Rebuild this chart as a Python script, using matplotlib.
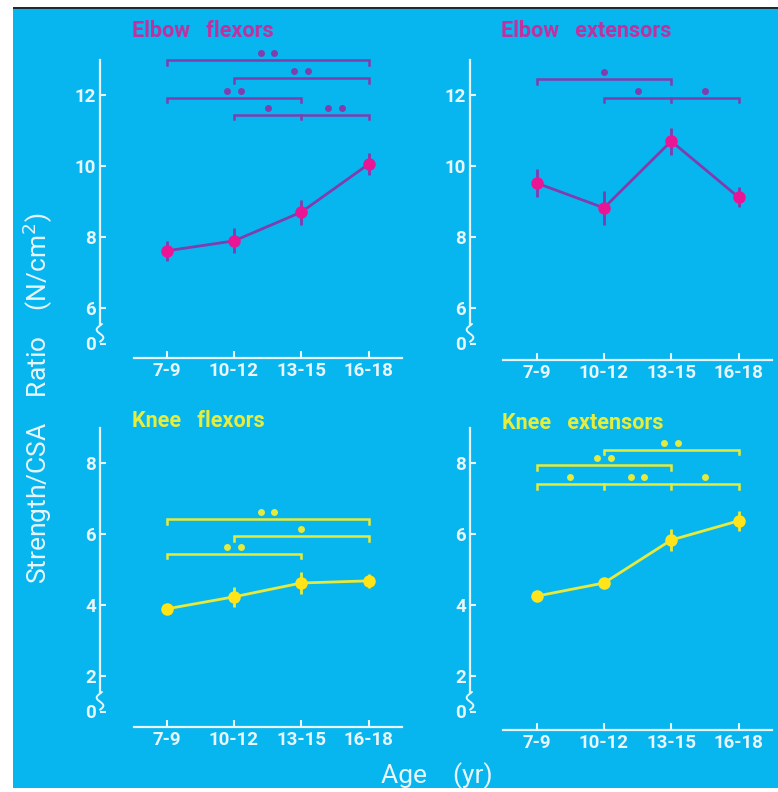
import numpy as np
import matplotlib
matplotlib.use("Agg")
import matplotlib.pyplot as plt
from matplotlib.patches import Rectangle

# ---------------- data ----------------
age_groups = ["7-9", "10-12", "13-15", "16-18"]

elbow_flex_mean = [7.61, 7.89, 8.70, 10.05]
elbow_flex_err = [0.28, 0.35, 0.35, 0.31]

elbow_ext_mean = [9.52, 8.82, 10.70, 9.12]
elbow_ext_err = [0.40, 0.47, 0.38, 0.28]

knee_flex_mean = [3.89, 4.23, 4.62, 4.68]
knee_flex_err = [0.15, 0.28, 0.30, 0.20]

knee_ext_mean = [4.25, 4.62, 5.83, 6.37]
knee_ext_err = [0.15, 0.15, 0.30, 0.28]

# significance brackets: (groups spanned, height, labels between consecutive groups)
elbow_flex_sig = [([0, 3], 12.98, ["**"]),
                  ([1, 3], 12.48, ["**"]),
                  ([0, 2], 11.92, ["**"]),
                  ([1, 2, 3], 11.44, ["*", "**"])]
elbow_ext_sig = [([0, 2], 12.45, ["*"]),
                 ([1, 2, 3], 11.92, ["*", "*"])]
knee_flex_sig = [([0, 3], 6.42, ["**"]),
                 ([1, 3], 5.94, ["*"]),
                 ([0, 2], 5.44, ["**"])]
knee_ext_sig = [([1, 3], 8.37, ["**"]),
                ([0, 2], 7.94, ["**"]),
                ([0, 1, 2, 3], 7.40, ["*", "**", "*"])]

upper_ticks = [5, 6, 8, 10, 12]
upper_ticklabels = ["0", "6", "8", "10", "12"]
lower_ticks = [1, 2, 4, 6, 8]
lower_ticklabels = ["0", "2", "4", "6", "8"]

# ---------------- style ----------------
W, H = 778, 792
BG = "#08b6ef"
AXIS = "#e8f5fa"
PURPLE = "#7f3dae"
PINK = "#ea1595"
MAGENTA_TXT = "#c0309f"
YELLOW_LINE = "#e6ea3c"
YELLOW_MK = "#ffe41a"
YELLOW_TXT = "#e8ec3a"

plt.rcParams["font.family"] = ["Roboto", "DejaVu Sans"]

fig = plt.figure(figsize=(W / 100, H / 100), dpi=100, facecolor="white")

# blue slide background with thin dark rule along the top
fig.patches.append(Rectangle((13 / W, 1 - 788 / H), (W - 13) / W, (788 - 9) / H,
                             transform=fig.transFigure, facecolor=BG,
                             edgecolor="none", zorder=-10))
fig.patches.append(Rectangle((13 / W, 1 - 9 / H), (W - 13) / W, 2.0 / H,
                             transform=fig.transFigure, facecolor="#1c2a33",
                             edgecolor="none", zorder=-9))

UNIT = 35.5   # pixels per y unit
XSTEP = 67.3  # pixels per age group
XLIM = (-0.99, 3.49)


def make_axes(left, top, bottom, ref_px, ref_val):
    right = left + (XLIM[1] - XLIM[0]) * XSTEP
    ax = fig.add_axes([left / W, 1 - bottom / H, (right - left) / W, (bottom - top) / H])
    ax.set_facecolor("none")
    ax.set_xlim(*XLIM)
    ymin = ref_val - (bottom - ref_px) / UNIT
    ymax = ref_val + (ref_px - top) / UNIT
    ax.set_ylim(ymin, ymax)
    return ax


def style_axes(ax, ticks, ticklabels, spine_lo, spine_hi, xstart):
    for s in ["top", "right"]:
        ax.spines[s].set_visible(False)
    for s in ["left", "bottom"]:
        ax.spines[s].set_color(AXIS)
        ax.spines[s].set_linewidth(1.6)
    ax.spines["left"].set_bounds(spine_lo, spine_hi)
    ax.spines["bottom"].set_bounds(xstart, XLIM[1])
    ax.set_xticks(range(len(age_groups)))
    ax.set_xticklabels(age_groups)
    ax.set_yticks(ticks)
    ax.set_yticklabels(ticklabels)
    ax.tick_params(axis="both", direction="in", colors=AXIS, width=1.5,
                   labelsize=13.5, labelcolor=AXIS)
    ax.tick_params(axis="y", length=4, pad=3)
    ax.tick_params(axis="x", length=5, pad=3)
    for lab in ax.get_xticklabels() + ax.get_yticklabels():
        lab.set_fontweight("bold")
    # axis break squiggle between the zero tick and the scale
    zero = ticks[0]
    t = np.linspace(0, 1, 40)
    xs = XLIM[0] + 0.05 * np.sin(t * 2.2 * np.pi)
    ys = zero + 0.05 + t * (spine_lo - zero - 0.05)
    ax.plot(xs, ys, color=AXIS, lw=1.4, clip_on=False, solid_capstyle="round")


def draw_series(ax, means, errs, line_c, mk_c):
    x = np.arange(len(means))
    ax.plot(x, means, color=line_c, lw=2.0, zorder=3)
    ax.errorbar(x, means, yerr=errs, fmt="none", ecolor=line_c, elinewidth=2.0,
                capsize=0, zorder=3)
    ax.plot(x, means, "o", color=mk_c, markersize=9, markeredgewidth=0, zorder=4)


def draw_brackets(ax, sig, color):
    tick = 0.13
    for groups, y, labels in sig:
        g0, g1 = groups[0], groups[-1]
        ax.plot([g0, g0, g1, g1], [y - tick, y, y, y - tick], color=color,
                lw=1.8, clip_on=False, solid_joinstyle="miter")
        for g in groups[1:-1]:
            ax.plot([g, g], [y, y - tick], color=color, lw=1.8, clip_on=False)
        for (a, b), lab in zip(zip(groups[:-1], groups[1:]), labels):
            c = (a + b) / 2
            n = len(lab)
            xs = c + (np.arange(n) - (n - 1) / 2) * 0.2
            ax.plot(xs, [y + 0.2] * n, "o", color=color, markersize=5,
                    markeredgewidth=0, clip_on=False)


# upper-left: elbow flexors
ax1 = make_axes(100, 40, 358, 95, 12)
style_axes(ax1, upper_ticks, upper_ticklabels, 5.55, 13.0, -0.49)
draw_series(ax1, elbow_flex_mean, elbow_flex_err, PURPLE, PINK)
draw_brackets(ax1, elbow_flex_sig, PURPLE)

# upper-right: elbow extensors
ax2 = make_axes(470, 40, 360, 95, 12)
style_axes(ax2, upper_ticks, upper_ticklabels, 5.55, 13.0, -0.5)
draw_series(ax2, elbow_ext_mean, elbow_ext_err, PURPLE, PINK)
draw_brackets(ax2, elbow_ext_sig, PURPLE)

# lower-left: knee flexors
ax3 = make_axes(100, 410, 727, 463, 8)
style_axes(ax3, lower_ticks, lower_ticklabels, 1.55, 9.0, -0.49)
draw_series(ax3, knee_flex_mean, knee_flex_err, YELLOW_LINE, YELLOW_MK)
draw_brackets(ax3, knee_flex_sig, YELLOW_LINE)

# lower-right: knee extensors
ax4 = make_axes(470, 410, 730, 463, 8)
style_axes(ax4, lower_ticks, lower_ticklabels, 1.55, 9.0, -0.5)
draw_series(ax4, knee_ext_mean, knee_ext_err, YELLOW_LINE, YELLOW_MK)
draw_brackets(ax4, knee_ext_sig, YELLOW_LINE)

# panel titles
title_kw = dict(fontsize=15.5, fontweight="bold", va="center", ha="left")
fig.text(132 / W, 1 - 31 / H, "Elbow   flexors", color=MAGENTA_TXT, **title_kw)
fig.text(501 / W, 1 - 31 / H, "Elbow   extensors", color=MAGENTA_TXT, **title_kw)
fig.text(132 / W, 1 - 421 / H, "Knee   flexors", color=YELLOW_TXT, **title_kw)
fig.text(502 / W, 1 - 423 / H, "Knee   extensors", color=YELLOW_TXT, **title_kw)

# shared axis labels
fig.text(38 / W, 1 - 398 / H, "Strength/CSA    Ratio    (N/cm$^2$)", rotation=90,
         color=AXIS, fontsize=19, ha="center", va="center")
fig.text(437 / W, 1 - 776 / H, "Age    (yr)", color=AXIS, fontsize=19,
         ha="center", va="center")

fig.savefig("out.png", dpi=100, facecolor=fig.get_facecolor())
